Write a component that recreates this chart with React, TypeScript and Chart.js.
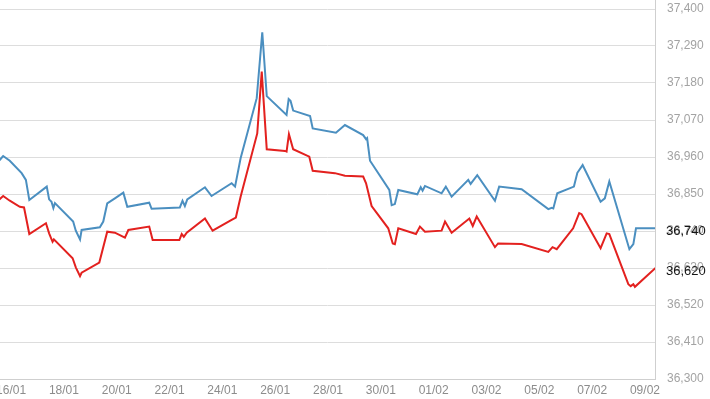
import React, { useEffect, useRef } from "react";
import { Chart, registerables } from "chart.js";

Chart.register(...registerables);

// x values are days of the year (16 = 16/01, 32 = 01/02)
const blueDays = [
  15.5, 15.7, 15.95, 16.4, 16.56, 16.69, 17.35, 17.44, 17.53, 17.6, 17.66, 18.35, 18.45, 18.61, 18.67,
  19.36, 19.49, 19.64, 19.93, 20.25, 20.4, 21.23, 21.32, 22.39, 22.49, 22.58, 22.67, 23.34, 23.59,
  24.35, 24.48, 24.69, 25.3, 25.51, 25.68, 26.43, 26.51, 26.58, 26.68, 27.32, 27.42, 28.3, 28.64,
  29.33, 29.44, 29.48, 29.59, 30.32, 30.41, 30.53, 30.66, 31.38, 31.51, 31.58, 31.67, 32.3, 32.46,
  32.68, 33.31, 33.4, 33.65, 34.32, 34.48, 35.33, 36.34, 36.47, 36.53, 36.68, 37.31, 37.44, 37.64,
  38.32, 38.48, 38.65, 39.41, 39.56, 39.66, 40.4,
];
const blueValues = [
  36945, 36963, 36949, 36912, 36892, 36832, 36872, 36834, 36827, 36808, 36823, 36768, 36741, 36715, 36743,
  36751, 36768, 36822, 36837, 36854, 36812, 36824, 36806, 36810, 36830, 36814, 36834, 36870, 36844,
  36882, 36872, 36956, 37135, 37331, 37141, 37085, 37132, 37127, 37098, 37082, 37045, 37032, 37055,
  37025, 37013, 37016, 36949, 36862, 36817, 36820, 36862, 36849, 36870, 36860, 36874, 36852, 36872,
  36842, 36892, 36880, 36906, 36830, 36872, 36864, 36805, 36809, 36807, 36852, 36872, 36913, 36936,
  36827, 36837, 36887, 36686, 36701, 36748, 36748,
];

const redDays = [
  15.5, 15.7, 15.95, 16.33, 16.49, 16.69, 17.32, 17.44, 17.57, 17.62, 18.33, 18.45, 18.61, 18.67,
  19.34, 19.64, 19.93, 20.31, 20.44, 21.23, 21.36, 22.37, 22.46, 22.54, 22.65, 23.34, 23.63, 24.35,
  24.51, 24.69, 25.32, 25.49, 25.68, 26.37, 26.43, 26.52, 26.68, 27.29, 27.42, 28.26, 28.64, 29.33,
  29.44, 29.65, 30.28, 30.45, 30.53, 30.66, 31.33, 31.48, 31.67, 32.3, 32.43, 32.68, 33.35, 33.48,
  33.63, 34.32, 34.44, 35.33, 36.34, 36.5, 36.66, 37.28, 37.51, 37.6, 38.32, 38.55, 38.65, 39.37,
  39.46, 39.56, 39.62, 40.4,
];
const redValues = [
  36830, 36844, 36830, 36812, 36810, 36731, 36763, 36733, 36708, 36715, 36659, 36632, 36606, 36616,
  36646, 36738, 36735, 36720, 36743, 36753, 36713, 36713, 36731, 36723, 36735, 36777, 36741, 36773,
  36780, 36842, 37030, 37214, 36983, 36978, 36976, 37028, 36983, 36961, 36919, 36912, 36904, 36902,
  36882, 36814, 36748, 36703, 36701, 36748, 36731, 36753, 36738, 36741, 36768, 36735, 36777, 36755,
  36783, 36692, 36703, 36701, 36678, 36692, 36686, 36748, 36793, 36790, 36689, 36733, 36731, 36582,
  36576, 36582, 36574, 36630,
];

const tickDays = [16, 18, 20, 22, 24, 26, 28, 30, 32, 34, 36, 38, 40];
const tickLabels = ["16/01", "18/01", "20/01", "22/01", "24/01", "26/01", "28/01", "30/01", "01/02", "03/02", "05/02", "07/02", "09/02"];

const xMin = 15.58;
const xMax = 40.38;
const yMin = 36300;
const yMax = 37400;
const yStep = 110;

// last-value markers on the right axis
const lastMarkerValues = [36740, 36620];
const lastMarkerLabels = ["36,740", "36,620"];

const FONT = '"Liberation Sans", Arial, sans-serif';

const lastValuePlugin = {
  id: "lastValue",
  afterDraw(chart: any) {
    const { ctx, chartArea, scales } = chart;
    ctx.save();
    // right frame line running up to the top of the canvas
    ctx.strokeStyle = "#cfcfcf";
    ctx.lineWidth = 1;
    ctx.beginPath();
    ctx.moveTo(Math.round(chartArea.right) + 0.5, 0);
    ctx.lineTo(Math.round(chartArea.right) + 0.5, chartArea.bottom);
    ctx.stroke();

    ctx.font = `13px ${FONT}`;
    ctx.fillStyle = "#151515";
    ctx.textBaseline = "middle";
    ctx.textAlign = "left";
    lastMarkerValues.forEach((v, i) => {
      const y = scales.y.getPixelForValue(v);
      ctx.fillText(lastMarkerLabels[i], chartArea.right + 11, y);
    });
    ctx.restore();
  },
};

export default function App() {
  const ref = useRef<HTMLCanvasElement>(null);

  useEffect(() => {
    if (!ref.current) return;
    const chart = new Chart(ref.current, {
      type: "line",
      data: {
        datasets: [
          {
            label: "blue",
            data: blueDays.map((d, i) => ({ x: d, y: blueValues[i] })),
            borderColor: "#4b8fc0",
            borderWidth: 2,
            pointRadius: 0,
            tension: 0,
            fill: false,
          },
          {
            label: "red",
            data: redDays.map((d, i) => ({ x: d, y: redValues[i] })),
            borderColor: "#e3211f",
            borderWidth: 2,
            pointRadius: 0,
            tension: 0,
            fill: false,
          },
        ],
      },
      options: {
        animation: false,
        responsive: false,
        devicePixelRatio: 1,
        layout: { padding: { left: 20, top: 9, right: 0, bottom: 0 } },
        plugins: { legend: { display: false }, tooltip: { enabled: false } },
        scales: {
          x: {
            type: "linear",
            min: xMin,
            max: xMax,
            afterBuildTicks: (scale: any) => {
              scale.ticks = tickDays.map((v) => ({ value: v }));
            },
            afterFit: (scale: any) => {
              scale.height = 20;
            },
            ticks: {
              autoSkip: false,
              maxRotation: 0,
              padding: 4,
              color: "#8c8c8c",
              font: { family: FONT, size: 12 },
              callback: (v: any) => {
                const i = tickDays.indexOf(Math.round(Number(v)));
                return i >= 0 ? tickLabels[i] : "";
              },
            },
            grid: { display: false, drawTicks: false },
            border: { display: true, color: "#cfcfcf", width: 1 },
          },
          y: {
            position: "right",
            min: yMin,
            max: yMax,
            afterFit: (scale: any) => {
              scale.width = 55;
            },
            ticks: {
              stepSize: yStep,
              padding: 0,
              color: "#a3a3a3",
              font: { family: FONT, size: 12 },
              callback: (v: any) => Math.round(Number(v)).toLocaleString("en-US"),
            },
            grid: {
              color: "#dddddd",
              drawTicks: true,
              tickLength: 12,
              tickColor: "rgba(0,0,0,0)",
              lineWidth: 1,
            },
            border: { display: true, color: "#cfcfcf", width: 1 },
          },
        },
      },
      plugins: [lastValuePlugin],
    });
    return () => chart.destroy();
  }, []);

  return (
    <div style={{ position: "absolute", left: -20, top: 0, width: 730, height: 399, background: "#fff" }}>
      <canvas ref={ref} width={730} height={399} style={{ display: "block", width: 730, height: 399 }} />
    </div>
  );
}
